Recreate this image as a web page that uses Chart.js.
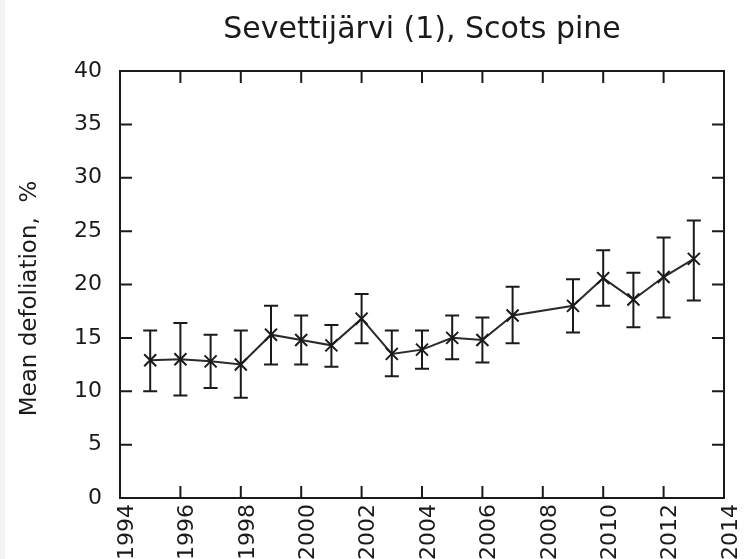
<!DOCTYPE html>
<html>
<head>
<meta charset="utf-8">
<script src="https://cdn.jsdelivr.net/npm/chart.js@4.4.1/dist/chart.umd.min.js"></script>
<style>
  html, body { margin: 0; padding: 0; background: #fff; }
  #wrap { position: relative; width: 749px; height: 559px; }
  #strip { position: absolute; left: 0; top: 0; width: 5px; height: 559px; background: #f4f4f4; }
</style>
</head>
<body>
<div id="wrap">
  <canvas id="chart" width="749" height="559"></canvas>
  <div id="strip"></div>
</div>
<script>
// survey years (no 2008 assessment)
const years = [1995, 1996, 1997, 1998, 1999, 2000, 2001, 2002, 2003, 2004, 2005, 2006, 2007, 2009, 2010, 2011, 2012, 2013];
const meanDefoliation = [12.9, 13.0, 12.8, 12.5, 15.3, 14.8, 14.3, 16.8, 13.5, 13.9, 15.0, 14.8, 17.1, 18.0, 20.6, 18.6, 20.7, 22.4];
const upperLimit = [15.7, 16.4, 15.3, 15.7, 18.0, 17.1, 16.2, 19.1, 15.7, 15.7, 17.1, 16.9, 19.8, 20.5, 23.2, 21.1, 24.4, 26.0];
const lowerLimit = [10.0, 9.6, 10.3, 9.4, 12.5, 12.5, 12.3, 14.5, 11.4, 12.1, 13.0, 12.7, 14.5, 15.5, 18.0, 16.0, 16.9, 18.5];

const xTicks = [1994, 1996, 1998, 2000, 2002, 2004, 2006, 2008, 2010, 2012, 2014];
const yTicks = [0, 5, 10, 15, 20, 25, 30, 35, 40];
const yTitle = "Mean defoliation,  %";

const ink = "#1a1a1a";

// gnuplot style frame with inward ticks on all four sides
const framePlugin = {
  id: "frame",
  afterDraw(chart) {
    const { ctx, chartArea: a, scales } = chart;
    const len = 12;
    ctx.save();
    ctx.strokeStyle = ink;
    ctx.lineWidth = 2;
    ctx.beginPath();
    xTicks.forEach(v => {
      const px = scales.x.getPixelForValue(v);
      ctx.moveTo(px, a.bottom);
      ctx.lineTo(px, a.bottom - len);
      ctx.moveTo(px, a.top);
      ctx.lineTo(px, a.top + len);
    });
    yTicks.forEach(v => {
      const py = scales.y.getPixelForValue(v);
      ctx.moveTo(a.left, py);
      ctx.lineTo(a.left + len, py);
      ctx.moveTo(a.right, py);
      ctx.lineTo(a.right - len, py);
    });
    ctx.stroke();
    ctx.strokeRect(a.left, a.top, a.right - a.left, a.bottom - a.top);

    // y axis title, sits a bit below the plot middle like the original
    ctx.translate(30, (a.top + a.bottom) / 2 + 14);
    ctx.rotate(-Math.PI / 2);
    ctx.fillStyle = ink;
    ctx.font = "23px 'DejaVu Sans'";
    ctx.textAlign = "center";
    ctx.textBaseline = "middle";
    ctx.fillText(yTitle, 0, 0);
    ctx.restore();
  }
};

const errorBarPlugin = {
  id: "errorBars",
  afterDatasetsDraw(chart) {
    const { ctx, scales } = chart;
    const cap = 7;
    ctx.save();
    ctx.strokeStyle = ink;
    ctx.lineWidth = 2;
    ctx.beginPath();
    years.forEach((yr, i) => {
      const px = scales.x.getPixelForValue(yr);
      const top = scales.y.getPixelForValue(upperLimit[i]);
      const bot = scales.y.getPixelForValue(lowerLimit[i]);
      ctx.moveTo(px, top);
      ctx.lineTo(px, bot);
      ctx.moveTo(px - cap, top);
      ctx.lineTo(px + cap, top);
      ctx.moveTo(px - cap, bot);
      ctx.lineTo(px + cap, bot);
    });
    ctx.stroke();
    ctx.restore();
  }
};

new Chart(document.getElementById("chart"), {
  type: "line",
  data: {
    datasets: [{
      data: years.map((yr, i) => ({ x: yr, y: meanDefoliation[i] })),
      borderColor: "#2a2a2a",
      borderWidth: 2,
      pointStyle: "crossRot",
      pointRadius: 8.5,
      pointBorderColor: ink,
      pointBorderWidth: 2,
      tension: 0,
      fill: false
    }]
  },
  options: {
    responsive: false,
    animation: false,
    layout: { padding: { left: 0, right: 25, top: 0, bottom: 0 } },
    plugins: {
      legend: { display: false },
      tooltip: { enabled: false },
      title: {
        display: true,
        text: "Sevettijärvi (1), Scots pine",
        fullSize: false,
        color: ink,
        font: { family: "DejaVu Sans", size: 30, weight: "normal" },
        padding: { top: 12, bottom: 23 }
      }
    },
    scales: {
      x: {
        type: "linear",
        min: 1994,
        max: 2014,
        afterBuildTicks: s => { s.ticks = xTicks.map(v => ({ value: v })); },
        afterFit: s => { s.height = 61; s.paddingLeft = 0; s.paddingRight = 0; },
        grid: { display: false },
        border: { display: false },
        ticks: {
          color: ink,
          font: { family: "DejaVu Sans", size: 22 },
          minRotation: 90,
          maxRotation: 90,
          padding: -2,
          labelOffset: 7,
          callback: v => String(v)
        }
      },
      y: {
        min: 0,
        max: 40,
        afterBuildTicks: s => { s.ticks = yTicks.map(v => ({ value: v })); },
        afterFit: s => { s.width = 120; },
        grid: { display: false },
        border: { display: false },
        ticks: {
          color: ink,
          font: { family: "DejaVu Sans", size: 22 },
          padding: 10
        }
      }
    }
  },
  plugins: [framePlugin, errorBarPlugin]
});
</script>
</body>
</html>
